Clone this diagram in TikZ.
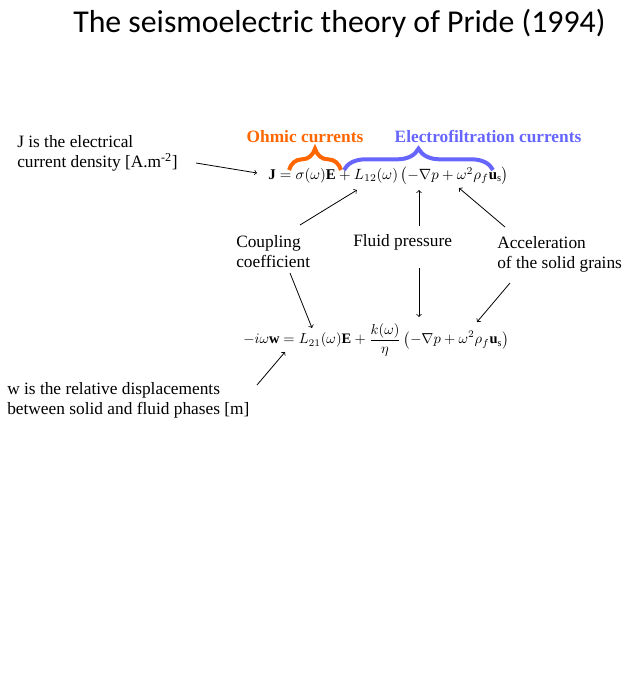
\documentclass[tikz,border=0pt]{standalone}
\usepackage{graphicx}
\usepackage{fontspec}
\setmainfont{Liberation Serif}
\newfontfamily\titlefont{Carlito}
\usetikzlibrary{decorations.pathreplacing}
\definecolor{ohm}{RGB}{255,102,0}
\definecolor{elec}{RGB}{102,102,255}
\begin{document}
\begin{tikzpicture}[x=0.75pt,y=-0.75pt,
  lbl/.style={font=\fontsize{13}{15}\selectfont, align=left, inner sep=0pt},
  blbl/.style={font=\bfseries\fontsize{13}{15}\selectfont, inner sep=0pt},
  arr/.style={->, line width=0.6pt},
  brc/.style={decorate, decoration={brace, amplitude=16}, line width=3pt}]
\useasboundingbox (0,0) rectangle (630,680);
\node[font=\titlefont\fontsize{23.85}{28}\selectfont, anchor=west, inner sep=0pt] (title) at (73,23) {The seismoelectric theory of Pride (1994)};

\node[lbl, anchor=west] (jtxt) at (17,153) {J is the electrical\\current density [A.m\textsuperscript{-2}]};
\node[anchor=west, inner sep=0pt] (eq1) at (268,176) {\scalebox{1.115}{$\mathbf{J}=\sigma(\omega)\mathbf{E}+L_{12}(\omega)\left(-\nabla p+\omega^2\rho_f\mathbf{u}_{\mathrm{s}}\right)$}};
\node[anchor=west, inner sep=0pt] (eq2) at (243,340) {\scalebox{1.085}{$\displaystyle-i\omega\mathbf{w}=L_{21}(\omega)\mathbf{E}+\frac{k(\omega)}{\eta}\left(-\nabla p+\omega^2\rho_f\mathbf{u}_{\mathrm{s}}\right)$}};

\node[blbl, text=ohm] (ohmic) at (305,137) {Ohmic currents};
\node[blbl, text=elec] (electro) at (488,137) {Electrofiltration currents};

\coordinate (b1a) at (289,170); \coordinate (b1b) at (341,170);
\coordinate (b2a) at (344,170); \coordinate (b2b) at (493,170);
\draw[brc, ohm] (b1a) -- (b1b);
\draw[brc, elec] (b2a) -- (b2b);

\node[lbl, anchor=west] (coup) at (236,252) {Coupling\\coefficient};
\node[lbl, anchor=west] (fluid) at (353,242) {Fluid pressure};
\node[lbl, anchor=west] (accel) at (497,254) {Acceleration\\of the solid grains};
\node[lbl, anchor=west] (wtxt) at (7,400) {w is the relative displacements\\between solid and fluid phases [m]};

\coordinate (j0) at (196,163); \coordinate (j1) at (257,173);
\draw[arr] (j0) -- (j1);
\coordinate (c0) at (300,225); \coordinate (c1) at (357,190);
\draw[arr] (c0) -- (c1);
\coordinate (f0) at (419,226); \coordinate (f1) at (419,190);
\draw[arr] (f0) -- (f1);
\coordinate (a0) at (505,227); \coordinate (a1) at (459,188);
\draw[arr] (a0) -- (a1);
\coordinate (c2) at (290,273); \coordinate (c3) at (312,328);
\draw[arr] (c2) -- (c3);
\coordinate (f2) at (419,268); \coordinate (f3) at (419,317);
\draw[arr] (f2) -- (f3);
\coordinate (a2) at (510,283); \coordinate (a3) at (477,322);
\draw[arr] (a2) -- (a3);
\coordinate (w0) at (257,385); \coordinate (w1) at (285,352);
\draw[arr] (w0) -- (w1);
\end{tikzpicture}
\end{document}
